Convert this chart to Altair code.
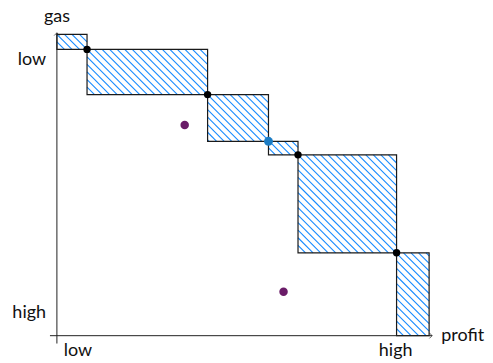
import math
import altair as alt
import pandas as pd

# ---- values ----
profit_edges = [0.0, 1.0, 5.0, 7.02, 8.0, 11.27, 12.35]
gas_edges = [10.0, 9.5, 8.0, 6.45, 6.0, 2.75, 0.0]
corner_profit = [1.0, 5.0, 8.0, 11.27]
corner_gas = [9.5, 8.0, 6.0, 2.75]
split_profit = [7.02]
split_gas = [6.45]
outlier_profit = [4.24, 7.52]
outlier_gas = [6.99, 1.46]

x_tick_labels = ["low", "high"]
x_tick_pos = [0.7, 11.24]
y_tick_labels = ["low", "high"]
y_tick_pos = [8.97, 0.6]

# ---- tables ----
rects = pd.DataFrame({
    "x": profit_edges[:-1], "x2": profit_edges[1:],
    "y": gas_edges[1:], "y2": gas_edges[:-1],
})

d = 0.25  # hatch spacing (data units)
segs = []
for r in rects.itertuples():
    x0, x1, y0, y1 = r.x, r.x2, r.y, r.y2
    k = math.ceil((x0 + y0) / d)
    while k * d < x1 + y1:
        c = k * d
        xa = max(x0, c - y1)
        xb = min(x1, c - y0)
        if xb > xa:
            segs.append({"x": xa, "y": c - xa, "x2": xb, "y2": c - xb})
        k += 1
hatch = pd.DataFrame(segs)

xs = alt.Scale(domain=[0, 12.35], zero=False, nice=False)
ys = alt.Scale(domain=[0, 10], zero=False, nice=False)
X = lambda f: alt.X(f, type="quantitative", scale=xs, axis=None)
Y = lambda f: alt.Y(f, type="quantitative", scale=ys, axis=None)

hatch_layer = alt.Chart(hatch).mark_rule(color="#168aff", strokeWidth=1.1).encode(
    x=X("x"), y=Y("y"), x2="x2", y2="y2")

rect_layer = alt.Chart(rects).mark_rect(fillOpacity=0, stroke="#1a1a1a", strokeWidth=1.2).encode(
    x=X("x"), x2="x2", y=Y("y"), y2="y2")

axes = pd.DataFrame({"x": [-0.23, 0.0], "x2": [12.45, 0.0], "y": [0.0, -0.26], "y2": [0.0, 10.05]})
axis_layer = alt.Chart(axes).mark_rule(color="#222222", strokeWidth=1).encode(
    x=X("x"), x2="x2", y=Y("y"), y2="y2")

arrow_r = alt.Chart(pd.DataFrame({"x": [12.45], "y": [0.0]})).mark_point(
    shape="M-1,-1L0,0L-1,1", filled=False, stroke="#222222", strokeWidth=1, size=30).encode(
    x=X("x"), y=Y("y"))
arrow_u = alt.Chart(pd.DataFrame({"x": [0.0], "y": [10.05]})).mark_point(
    shape="M-1,1L0,0L1,1", filled=False, stroke="#222222", strokeWidth=1, size=30).encode(
    x=X("x"), y=Y("y"))

corners = alt.Chart(pd.DataFrame({"x": corner_profit, "y": corner_gas})).mark_circle(
    color="black", size=55, opacity=1).encode(x=X("x"), y=Y("y"))
split = alt.Chart(pd.DataFrame({"x": split_profit, "y": split_gas})).mark_circle(
    color="#1b7cc4", size=80, opacity=1).encode(x=X("x"), y=Y("y"))
outliers = alt.Chart(pd.DataFrame({"x": outlier_profit, "y": outlier_gas})).mark_circle(
    color="#6a1c68", size=72, opacity=1).encode(x=X("x"), y=Y("y"))

FONT = "Lato"
FS = 18
ylab = alt.Chart(pd.DataFrame({"t": y_tick_labels, "x": [-0.36, -0.36], "y": y_tick_pos})).mark_text(
    align="right", baseline="alphabetic", font=FONT, fontSize=FS, color="#111111").encode(
    x=X("x"), y=Y("y"), text="t")
xlab = alt.Chart(pd.DataFrame({"t": x_tick_labels + ["gas"], "x": x_tick_pos + [0.0],
                               "y": [-0.66, -0.66, 10.42]})).mark_text(
    align="center", baseline="alphabetic", font=FONT, fontSize=FS, color="#111111").encode(
    x=X("x"), y=Y("y"), text="t")
plab = alt.Chart(pd.DataFrame({"t": ["profit"], "x": [12.75], "y": [-0.17]})).mark_text(
    align="left", baseline="alphabetic", font=FONT, fontSize=FS, color="#111111").encode(
    x=X("x"), y=Y("y"), text="t")

chart = alt.layer(hatch_layer, rect_layer, axis_layer, arrow_r, arrow_u,
                  corners, split, outliers, ylab, xlab, plab).properties(
    width=373, height=302,
    autosize=alt.AutoSizeParams(type="none"),
    padding={"left": 49, "top": 26, "right": 56, "bottom": 24},
).configure_view(stroke=None)

chart.save("out.html", embed_options={"renderer": "svg", "actions": False})
